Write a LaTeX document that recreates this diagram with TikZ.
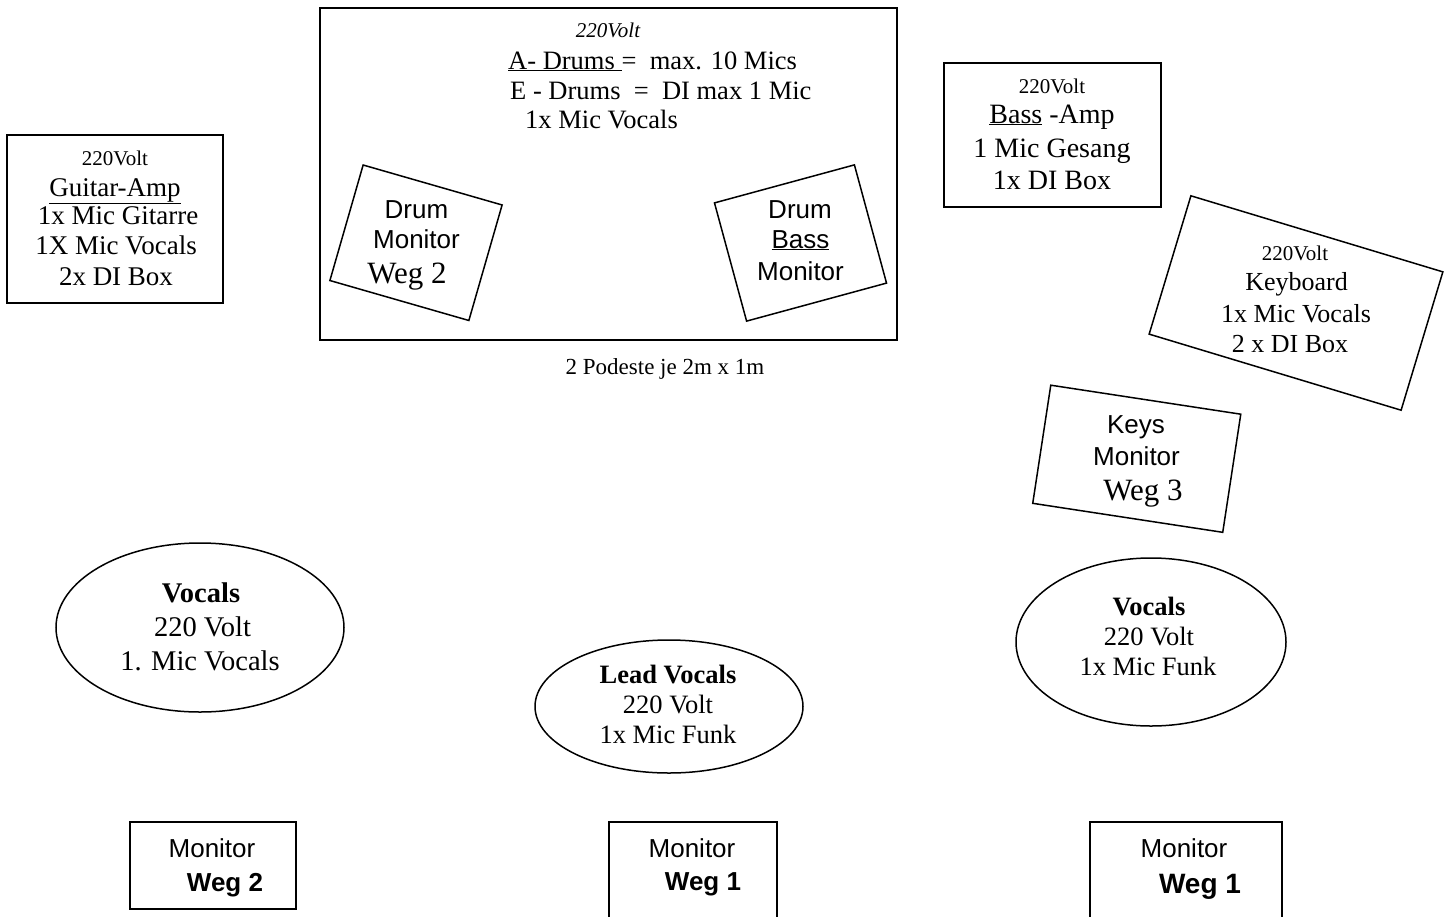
\documentclass[tikz,border=0pt]{standalone}
\usepackage{fontspec}
\setmainfont{Liberation Serif}
\setsansfont{Liberation Sans}
\usetikzlibrary{shapes.geometric}
\newcommand\fz[1]{\fontsize{#1pt}{#1pt}\selectfont}
\begin{document}
\begin{tikzpicture}[x=1pt,y=-1pt,
  box/.style={draw,line width=1.5pt,inner sep=0pt,rectangle},
  oval/.style={draw,line width=1.5pt,inner sep=0pt,ellipse},
  t/.style={inner sep=0pt,anchor=base},
  tl/.style={inner sep=0pt,anchor=base west}]
\clip (0,0) rectangle (1446,916);
\useasboundingbox (0,0) rectangle (1446,916);

% Guitar amp
\node[box,minimum width=216pt,minimum height=168pt] (guitar) at (115,219) {};
\node[t,font=\fz{21}] (g1) at (115,165) {220Volt};
\node[t,font=\fz{27}] (g2) at (115,196) {\underline{Guitar-Amp}};
\node[t,font=\fz{27}] (g3) at (118,224) {1x Mic Gitarre};
\node[t,font=\fz{27}] (g4) at (116,254) {1X Mic Vocals};
\node[t,font=\fz{27}] (g5) at (116,285) {2x DI Box};

% Drum riser
\node[box,minimum width=577pt,minimum height=332pt] (riser) at (608.5,174) {};
\node[t,font=\itshape\fz{21}] (r0) at (608,37) {220Volt};
\node[tl,font=\fz{26.5}] (r1) at (508,69) {\underline{A- Drums\ }= \ max. 10 Mics};
\node[tl,font=\fz{26.5}] (r2) at (510,99) {E - Drums \ = \ DI max 1 Mic};
\node[tl,font=\fz{26.5}] (r3) at (525,128) {1x Mic Vocals};

% Drum monitors
\node[box,rotate=-16.05,minimum width=144.6pt,minimum height=120.2pt] (dmL) at (416,242.75) {};
\node[t,font=\sffamily\fz{26}] (dmL1) at (416.5,218) {Drum};
\node[t,font=\sffamily\fz{26}] (dmL2) at (416.5,248) {Monitor};
\node[t,font=\fz{31}] (dmL3) at (407,283) {Weg 2};

\node[box,rotate=15.2,minimum width=145pt,minimum height=122.5pt] (dmR) at (800.5,243) {};
\node[t,font=\sffamily\fz{26}] (dmR1) at (800,218) {Drum};
\node[t,font=\sffamily\fz{26}] (dmR2) at (800.5,248) {\underline{Bass}};
\node[t,font=\sffamily\fz{26}] (dmR3) at (800.5,280) {Monitor};

\node[t,font=\fz{23}] (podest) at (665,374) {2 Podeste je 2m x 1m};

% Bass amp
\node[box,minimum width=217pt,minimum height=144pt] (bass) at (1052.5,135) {};
\node[t,font=\fz{21}] (b1) at (1052,93) {220Volt};
\node[t,font=\fz{28}] (b2) at (1052,123) {\underline{Bass} -Amp};
\node[t,font=\fz{28}] (b3) at (1052,157) {1 Mic Gesang};
\node[t,font=\fz{28}] (b4) at (1052,189) {1x DI Box};

% Keyboard
\node[box,rotate=-16.8,minimum width=263.2pt,minimum height=144.5pt] (key) at (1296,303) {};
\node[t,font=\fz{21}] (k1) at (1295,260) {220Volt};
\node[t,font=\fz{26}] (k2) at (1296.5,290) {Keyboard};
\node[t,font=\fz{26}] (k3) at (1296,322) {1x Mic Vocals};
\node[t,font=\fz{26}] (k4) at (1290,352) {2 x DI Box};

% Keys monitor
\node[box,rotate=-8.68,minimum width=192.2pt,minimum height=119.5pt] (km) at (1136.75,458.75) {};
\node[t,font=\sffamily\fz{26}] (km1) at (1136,433) {Keys};
\node[t,font=\sffamily\fz{26}] (km2) at (1136.5,465) {Monitor};
\node[t,font=\fz{31}] (km3) at (1143,500) {Weg 3};

% Vocal ellipses
\node[oval,minimum width=288pt,minimum height=169pt] (vL) at (200,627.5) {};
\node[t,font=\bfseries\fz{28.5}] (vL1) at (201,602) {Vocals};
\node[t,font=\fz{28.5}] (vL2) at (202.5,636) {220 Volt};
\node[t,font=\fz{28.5}] (vL3) at (200,670) {1. Mic Vocals};

\node[oval,minimum width=268pt,minimum height=133pt] (vM) at (669,706.5) {};
\node[t,font=\bfseries\fz{26.5}] (vM1) at (668,683) {Lead Vocals};
\node[t,font=\fz{26.5}] (vM2) at (668,713) {220 Volt};
\node[t,font=\fz{26.5}] (vM3) at (668,743) {1x Mic Funk};

\node[oval,minimum width=270pt,minimum height=168pt] (vR) at (1151,642) {};
\node[t,font=\bfseries\fz{26.5}] (vR1) at (1149,615) {Vocals};
\node[t,font=\fz{26.5}] (vR2) at (1149,645) {220 Volt};
\node[t,font=\fz{26.5}] (vR3) at (1148,675) {1x Mic Funk};

% Floor monitors
\node[box,minimum width=166pt,minimum height=87pt] (mL) at (213,865.5) {};
\node[t,font=\sffamily\fz{26}] (mL1) at (212,857) {Monitor};
\node[t,font=\sffamily\bfseries\fz{26}] (mL2) at (225,891) {Weg 2};

\node[box,minimum width=168pt,minimum height=110pt] (mM) at (693,877) {};
\node[t,font=\sffamily\fz{26}] (mM1) at (692,857) {Monitor};
\node[t,font=\sffamily\bfseries\fz{26}] (mM2) at (703,890) {Weg 1};

\node[box,minimum width=192pt,minimum height=110pt] (mR) at (1186,877) {};
\node[t,font=\sffamily\fz{26}] (mR1) at (1184,857) {Monitor};
\node[t,font=\sffamily\bfseries\fz{28}] (mR2) at (1200,893) {Weg 1};
\end{tikzpicture}
\end{document}
